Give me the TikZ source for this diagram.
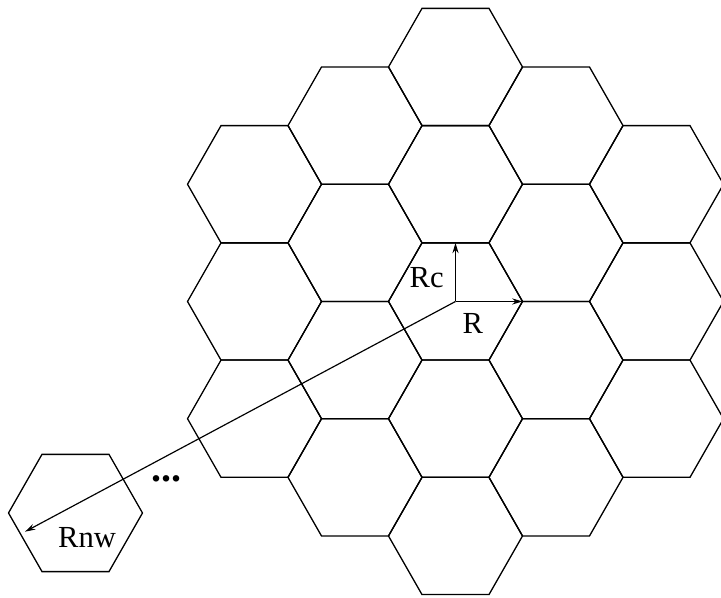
\documentclass[tikz,border=0pt]{standalone}
\usepackage{fontspec}
\setmainfont{Liberation Serif}
\usepackage{tikz}
\usetikzlibrary{positioning, arrows.meta}

\def\rc{0.875}% inner radius of a cell (outer radius is 1)

\begin{document}
\begin{tikzpicture}[scale=1,
    cell/.style={line width=0.55pt},
    vec/.style={-{Stealth[length=4.4pt,width=2.6pt]},line width=0.5pt},
    lbl/.style={font=\fontsize{13}{15}\selectfont},
    hexcell/.pic={\draw[cell] (1,0)--(0.5,\rc)--(-0.5,\rc)--(-1,0)--(-0.5,-\rc)--(0.5,-\rc)--cycle;}]
    \useasboundingbox (-6.799,-4.425) rectangle (3.963,4.5);
    % cluster of 19 cells
    \foreach \i in {-2,...,2}{
        \pgfmathtruncatemacro{\m}{4-abs(\i)}
        \foreach \j in {0,...,\m}
            \pic at ({1.5*\i},{(2*\j-\m)*\rc}) {hexcell};
    }
    % lone cell far away
    \pic at (-5.672,-3.157) {hexcell};
    \coordinate (c) at (0,0);%centre
    \coordinate (rc) at (0,\rc);
    \coordinate (r) at (1,0);
    \coordinate (nw) at (-6.425,-3.436);
    \draw[vec] (c)--(rc) node[lbl,pos=0.41,left=0.5mm]{Rc};
    \draw[vec] (c)--(r) node[lbl,pos=0.26,below=0.5mm]{R};
    \draw[vec] (c)--(nw);
    \node[lbl] (rnw) at (-5.5,-3.522) {Rnw};
    \node[font=\fontsize{17}{17}\selectfont\bfseries] (dots) at (-4.313,-2.64) {...};
\end{tikzpicture}
\end{document}
